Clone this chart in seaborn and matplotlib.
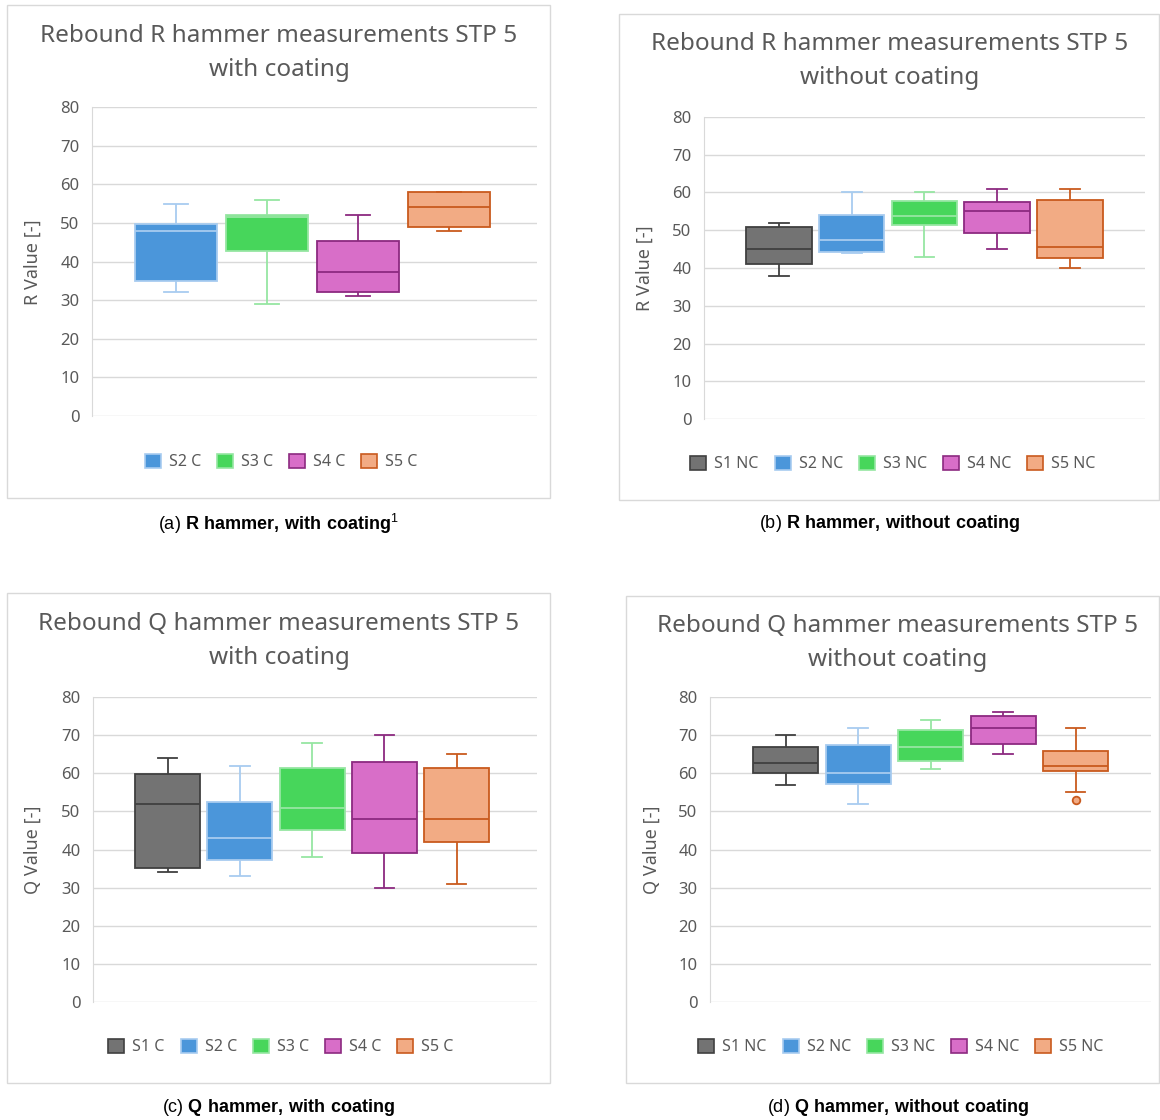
import numpy as np
import pandas as pd
import matplotlib
matplotlib.use("Agg")
import matplotlib.pyplot as plt
from matplotlib.patches import Rectangle, Patch
import seaborn as sns

# ---- data (five-number summaries) ----
cats_a = ["S2 C", "S3 C", "S4 C", "S5 C"]
lo_a = [32, 29, 31, 48]
q1_a = [35, 42.6, 32, 49]
med_a = [48, 51.4, 37.4, 54]
q3_a = [49.7, 52, 45.3, 58]
hi_a = [55, 56, 52, 58]

cats_b = ["S1 NC", "S2 NC", "S3 NC", "S4 NC", "S5 NC"]
lo_b = [38, 44, 43, 45, 40]
q1_b = [41, 44.3, 51.3, 49.2, 42.7]
med_b = [45.1, 47.5, 53.7, 55.2, 45.5]
q3_b = [50.8, 54, 57.7, 57.5, 58]
hi_b = [52, 60, 60, 61, 61]

cats_c = ["S1 C", "S2 C", "S3 C", "S4 C", "S5 C"]
lo_c = [34, 33, 38, 30, 31]
q1_c = [35.2, 37.3, 45, 39, 42]
med_c = [52, 43, 51, 48, 48]
q3_c = [59.7, 52.4, 61.5, 63, 61.5]
hi_c = [64, 62, 68, 70, 65]

cats_d = ["S1 NC", "S2 NC", "S3 NC", "S4 NC", "S5 NC"]
lo_d = [57, 52, 61, 65, 55]
q1_d = [60.1, 57.1, 63.2, 67.8, 60.7]
med_d = [62.8, 60, 66.8, 71.9, 61.9]
q3_d = [66.8, 67.4, 71.4, 75, 65.9]
hi_d = [70, 72, 74, 76, 72]
outlier_cat_d = ["S5 NC"]
outlier_val_d = [53]

fills = {"S1": "#737373", "S2": "#4b96da", "S3": "#47d65b", "S4": "#d86ec8", "S5": "#f2ab84"}
edges = {"S1": "#404040", "S2": "#a8ccf0", "S3": "#96e6a2", "S4": "#8c2a80", "S5": "#c95a1e"}

GREY = "#595959"
W, H = 1160, 1120

plt.rcParams["font.family"] = ["Noto Sans", "DejaVu Sans"]
plt.rcParams["mathtext.fontset"] = "custom"
plt.rcParams["mathtext.rm"] = "Liberation Sans"
plt.rcParams["mathtext.bf"] = "Liberation Sans:bold"

fig = plt.figure(figsize=(W / 100, H / 100), dpi=100)
fig.patch.set_facecolor("white")


def fx(x):
    return x / W


def fy(y):
    return 1 - y / H


def long_frame(cats, lo, q1, med, q3, hi):
    rows = []
    for i, c in enumerate(cats):
        for v in (lo[i], q1[i], med[i], q3[i], hi[i]):
            rows.append({"cat": c, "val": v})
    return pd.DataFrame(rows)


def panel(box, area, xlim, cats, stats, title, ylabel, title_xy, leg_xy, ylab_xy, caption, cap_xy,
          out_cats=None, out_vals=None):
    # panel border
    x0, y0, x1, y1 = box
    fig.patches.append(Rectangle((fx(x0), fy(y1)), fx(x1 - x0), (y1 - y0) / H,
                                 transform=fig.transFigure, fill=False,
                                 edgecolor="#d9d9d9", linewidth=1.0))
    l, t, r, b = area
    ax = fig.add_axes([fx(l), fy(b), fx(r - l), (b - t) / H])
    df = long_frame(cats, *stats)
    for c in cats:
        key = c.split()[0]
        sns.boxplot(data=df[df["cat"] == c], x="cat", y="val", order=cats, ax=ax,
                    color=fills[key], linecolor=edges[key], saturation=1,
                    width=0.9, whis=(0, 100), fliersize=0, linewidth=1.3,
                    capwidths=0.27)
    if out_cats:
        odf = pd.DataFrame({"cat": out_cats, "val": out_vals})
        for c in out_cats:
            key = c.split()[0]
            sns.scatterplot(data=odf[odf["cat"] == c], x="cat", y="val", ax=ax,
                            color=fills[key], edgecolor=edges[key], linewidth=1.3,
                            s=30, zorder=5, legend=False)
    ax.set_xlim(*xlim)
    ax.set_ylim(0, 80)
    ax.set_yticks(range(0, 81, 10))
    ax.set_xticks([])
    ax.set_xlabel("")
    ax.set_ylabel("")
    ax.grid(axis="y", color="#d9d9d9", linewidth=1.0)
    ax.set_axisbelow(True)
    for s in ("top", "right", "bottom"):
        ax.spines[s].set_visible(False)
    ax.spines["left"].set_color("#d9d9d9")
    ax.tick_params(axis="y", length=0, pad=9, labelsize=12, labelcolor=GREY)
    ax.set_facecolor("white")

    fig.text(fx(title_xy[0]), fy(title_xy[1]), title, ha="center", va="center",
             fontsize=17.5, color=GREY, linespacing=1.55)
    fig.text(fx(ylab_xy[0]), fy(ylab_xy[1]), ylabel, rotation=90, ha="center", va="center",
             fontsize=13, color=GREY)
    handles = [Patch(facecolor=fills[c.split()[0]], edgecolor=edges[c.split()[0]], linewidth=1.2)
               for c in cats]
    fig.legend(handles, cats, loc="center", bbox_to_anchor=(fx(leg_xy[0]), fy(leg_xy[1])),
               ncol=len(cats), frameon=False, fontsize=11.5, labelcolor=GREY,
               handlelength=1.0, handleheight=1.0, handletextpad=0.5, columnspacing=1.0)
    fig.text(fx(cap_xy[0]), fy(cap_xy[1]), caption, ha="center", va="center",
             fontsize=13, color="black", family="Liberation Sans")
    return ax


panel((7, 5, 550, 498), (92, 107, 537, 416), (-0.923, 3.967), cats_a,
      (lo_a, q1_a, med_a, q3_a, hi_a),
      "Rebound R hammer measurements STP 5\nwith coating", "R Value [-]",
      (279, 53), (281, 462), (33, 262),
      r"(a) $\mathbf{R\ hammer{,}\ with\ coating}^{\mathrm{1}}$", (279, 524))

panel((619, 14, 1159, 500), (704, 117, 1145, 419), (-1.032, 5.034), cats_b,
      (lo_b, q1_b, med_b, q3_b, hi_b),
      "Rebound R hammer measurements STP 5\nwithout coating", "R Value [-]",
      (890, 61), (893, 464), (645, 268),
      r"(b) $\mathbf{R\ hammer{,}\ without\ coating}$", (890, 524))

panel((7, 593, 550, 1083), (93, 697, 537, 1002), (-1.034, 5.111), cats_c,
      (lo_c, q1_c, med_c, q3_c, hi_c),
      "Rebound Q hammer measurements STP 5\nwith coating", "Q Value [-]",
      (279, 641), (281, 1047), (33, 850),
      r"(c) $\mathbf{Q\ hammer{,}\ with\ coating}$", (279, 1107))

panel((626, 596, 1159, 1083), (710, 697, 1151, 1002), (-1.044, 5.039), cats_d,
      (lo_d, q1_d, med_d, q3_d, hi_d),
      "Rebound Q hammer measurements STP 5\nwithout coating", "Q Value [-]",
      (898, 643), (901, 1047), (652, 850),
      r"(d) $\mathbf{Q\ hammer{,}\ without\ coating}$", (898, 1107),
      out_cats=outlier_cat_d, out_vals=outlier_val_d)

fig.savefig("out.png", dpi=100, facecolor="white")
